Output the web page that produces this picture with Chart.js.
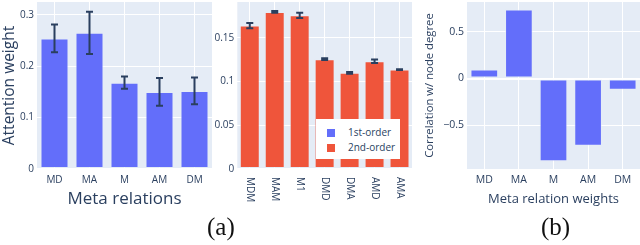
<!DOCTYPE html>
<html>
<head>
<meta charset="utf-8">
<script src="https://cdn.jsdelivr.net/npm/chart.js@4.4.0/dist/chart.umd.min.js"></script>
<style>
  body { margin: 0; background: #fff; width: 640px; height: 245px; position: relative; overflow: hidden; font-family: "Open Sans", sans-serif; }
  canvas { position: absolute; }
  #c1 { left: 0; top: 0; }
  #c2 { left: 212px; top: 0; }
  #c3 { left: 415px; top: 0; }
  .cap { position: absolute; font-family: "Liberation Serif", "DejaVu Serif", serif; font-size: 25px; color: #111; }
  #legend { position: absolute; left: 316px; top: 119px; width: 84px; height: 40px; background: #fff; font-size: 10px; color: #2a3f5f; white-space: nowrap; }
  #legend div { position: absolute; left: 11px; height: 12px; line-height: 12px; }
  #legend span { display: inline-block; width: 8px; height: 8px; margin-right: 13px; vertical-align: -1px; }
</style>
</head>
<body>
<canvas id="c1" width="215" height="215"></canvas>
<canvas id="c2" width="203" height="215"></canvas>
<canvas id="c3" width="225" height="215"></canvas>
<div id="legend">
  <div style="top:7px"><span style="background:#636efa"></span>1st-order</div>
  <div style="top:22px"><span style="background:#ef553b"></span>2nd-order</div>
</div>
<div class="cap" style="left:207px; top:213px;">(a)</div>
<div class="cap" style="left:541px; top:213px;">(b)</div>
<script>
// data
var relations = ['MD', 'MA', 'M', 'AM', 'DM'];
var attention = [0.254, 0.265, 0.168, 0.150, 0.152];
var attentionErr = [0.027, 0.041, 0.012, 0.027, 0.026];
var ticks1 = [0, 0.1, 0.2, 0.3];

var relations2 = ['MDM', 'MAM', 'M1', 'DMD', 'DMA', 'AMD', 'AMA'];
var attention2 = [0.164, 0.1796, 0.1758, 0.1256, 0.110, 0.1233, 0.1137];
var attention2Err = [0.003, 0.001, 0.003, 0.001, 0.001, 0.002, 0.0005];
var ticks2 = [0, 0.05, 0.1, 0.15];

var weights = ['MD', 'MA', 'M', 'AM', 'DM'];
var correlation = [0.096, 0.74, -0.886, -0.72, -0.12];
var ticks3 = [-0.5, 0, 0.5];

var blue = '#636efa';
var red = '#ef553b';
var ink = '#2a3f5f';
Chart.defaults.font.family = '"Open Sans", sans-serif';
Chart.defaults.color = ink;
Chart.defaults.animation = false;

var plotBg = {
  id: 'plotBg',
  beforeDraw: function(chart) {
    var a = chart.chartArea, ctx = chart.ctx;
    ctx.save();
    ctx.fillStyle = '#e5ecf6';
    ctx.fillRect(a.left, a.top, a.right - a.left, a.bottom - a.top);
    ctx.restore();
  }
};

var errorBars = {
  id: 'errorBars',
  afterDatasetsDraw: function(chart) {
    var ctx = chart.ctx, y = chart.scales.y;
    chart.data.datasets.forEach(function(ds, di) {
      if (!ds.errors) return;
      var meta = chart.getDatasetMeta(di);
      meta.data.forEach(function(bar, i) {
        var v = ds.data[i], e = ds.errors[i];
        var top = y.getPixelForValue(v + e), bot = y.getPixelForValue(v - e);
        ctx.save();
        ctx.strokeStyle = ink;
        ctx.lineWidth = 2;
        ctx.beginPath();
        ctx.moveTo(bar.x, top); ctx.lineTo(bar.x, bot);
        ctx.moveTo(bar.x - 3.5, top); ctx.lineTo(bar.x + 3.5, top);
        ctx.moveTo(bar.x - 3.5, bot); ctx.lineTo(bar.x + 3.5, bot);
        ctx.stroke();
        ctx.restore();
      });
    });
  }
};

// x labels of the middle panel, turned to read downwards
var downLabels = {
  id: 'downLabels',
  afterDraw: function(chart) {
    var ctx = chart.ctx, x = chart.scales.x;
    ctx.save();
    ctx.fillStyle = ink;
    ctx.font = '10px "Open Sans", sans-serif';
    ctx.textAlign = 'left';
    ctx.textBaseline = 'middle';
    chart.data.labels.forEach(function(lbl, i) {
      ctx.save();
      ctx.translate(x.getPixelForTick(i), chart.chartArea.bottom + 8);
      ctx.rotate(Math.PI / 2);
      ctx.fillText(lbl, 0, 0);
      ctx.restore();
    });
    ctx.restore();
  }
};

function fmt(v) {
  return v < 0 ? '\u2212' + String(-v) : String(v);
}

function makeChart(id, labels, values, errors, color, yTicks, yMin, yMax, opts) {
  return new Chart(document.getElementById(id), {
    type: 'bar',
    data: {
      labels: labels,
      datasets: [{
        data: values,
        errors: errors,
        backgroundColor: color,
        borderColor: 'rgba(229,236,246,0.6)',
        borderWidth: 1,
        borderSkipped: false,
        categoryPercentage: 0.8,
        barPercentage: 1
      }]
    },
    options: {
      responsive: false,
      layout: { padding: { top: 2, right: opts.right, left: 0, bottom: 0 } },
      plugins: { legend: { display: false }, tooltip: { enabled: false } },
      scales: {
        x: {
          grid: { color: '#fff', offset: false, drawTicks: false },
          border: { display: false },
          ticks: { display: opts.xTicks, padding: 5, font: { size: opts.tickSize }, maxRotation: 0 },
          title: { display: !!opts.xTitle, text: opts.xTitle, font: { size: opts.xTitleSize }, padding: { top: 0, bottom: opts.xTitlePad } },
          afterFit: function(s) { s.height = opts.xHeight; s.paddingLeft = 0; s.paddingRight = 0; }
        },
        y: {
          min: yMin, max: yMax,
          afterBuildTicks: function(s) { s.ticks = yTicks.map(function(v) { return { value: v }; }); },
          grid: {
            color: '#fff', drawTicks: false,
            lineWidth: function(c) { return c.tick && c.tick.value === 0 ? 2 : 1; }
          },
          border: { display: false },
          ticks: { padding: 3, font: { size: opts.tickSize }, callback: function(v) { return fmt(v); } },
          title: { display: !!opts.yTitle, text: opts.yTitle, font: { size: opts.yTitleSize }, padding: { top: opts.yTitlePad, bottom: 0 } },
          afterFit: function(s) { s.width = opts.yWidth; s.paddingTop = 0; s.paddingBottom = 0; }
        }
      }
    },
    plugins: opts.plugins
  });
}

makeChart('c1', relations, attention, attentionErr, blue, ticks1, 0, 0.325, {
  right: 3, xTicks: true, xHeight: 46, yWidth: 37, tickSize: 10,
  xTitle: 'Meta relations', xTitleSize: 17, xTitlePad: 6,
  yTitle: 'Attention weight', yTitleSize: 15.5, yTitlePad: 0,
  plugins: [plotBg, errorBars]
});

makeChart('c2', relations2, attention2, attention2Err, red, ticks2, 0, 0.191, {
  right: 3, xTicks: false, xHeight: 46, yWidth: 25.3, tickSize: 10,
  plugins: [plotBg, errorBars, downLabels]
});

makeChart('c3', weights, correlation, null, blue, ticks3, -0.97, 0.82, {
  right: 0, xTicks: true, xHeight: 46, yWidth: 52, tickSize: 10.5,
  xTitle: 'Meta relation weights', xTitleSize: 13, xTitlePad: 8,
  yTitle: 'Correlation w/ node degree', yTitleSize: 11.3, yTitlePad: 8,
  plugins: [plotBg]
});
</script>
</body>
</html>
